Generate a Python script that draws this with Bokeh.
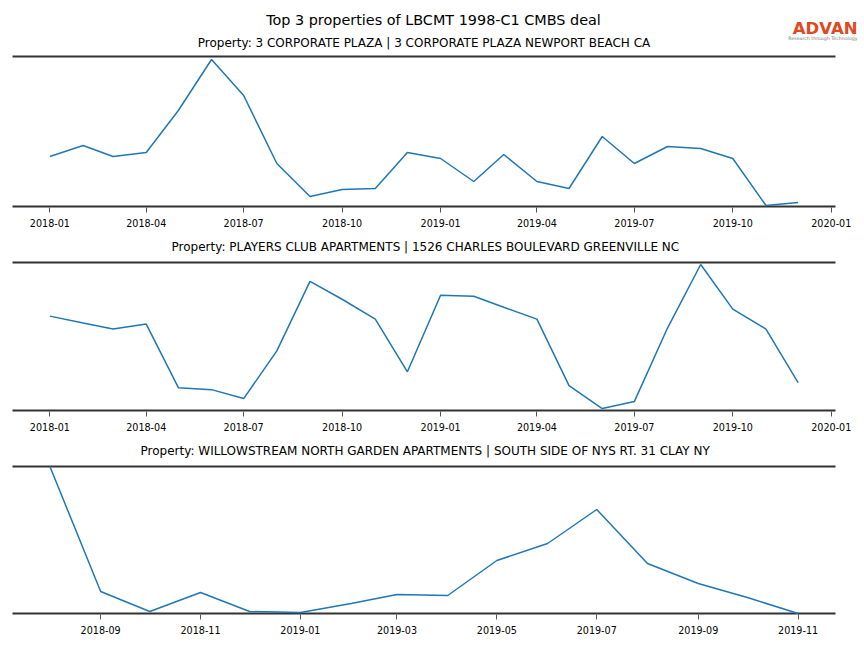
import pandas as pd
from bokeh.plotting import figure
from bokeh.models import (FixedTicker, DatetimeTickFormatter, Title, Range1d)
from bokeh.core.properties import value
from bokeh.layouts import column
from bokeh.embed import file_html
from bokeh.resources import INLINE

main_title = "Top 3 properties of LBCMT 1998-C1 CMBS deal"
logo_text = "ADVAN"
logo_sub = "Research through Technology"

titles = [
    "Property: 3 CORPORATE PLAZA | 3 CORPORATE PLAZA NEWPORT BEACH CA",
    "Property: PLAYERS CLUB APARTMENTS | 1526 CHARLES BOULEVARD GREENVILLE NC",
    "Property: WILLOWSTREAM NORTH GARDEN APARTMENTS | SOUTH SIDE OF NYS RT. 31 CLAY NY",
]

months_1 = ["2018-01", "2018-02", "2018-03", "2018-04", "2018-05", "2018-06",
            "2018-07", "2018-08", "2018-09", "2018-10", "2018-11", "2018-12",
            "2019-01", "2019-02", "2019-03", "2019-04", "2019-05", "2019-06",
            "2019-07", "2019-08", "2019-09", "2019-10", "2019-11", "2019-12"]
values_1 = [50, 61, 50, 54, 96, 147, 111, 43, 10, 17, 18, 54,
            48, 25, 52, 25, 18, 70, 43, 60, 58, 48, 1, 4]

months_2 = months_1
values_2 = [95, 88, 82, 87, 23, 21, 12, 60, 130, 112, 92, 39,
            116, 115, 104, 92, 25, 2, 9, 83, 147, 102, 82, 28]

months_3 = ["2018-08", "2018-09", "2018-10", "2018-11", "2018-12", "2019-01",
            "2019-02", "2019-03", "2019-04", "2019-05", "2019-06", "2019-07",
            "2019-08", "2019-09", "2019-10", "2019-11"]
values_3 = [147, 22, 2, 21, 2, 1, 10, 19, 18, 53, 70, 104, 50, 30, 16, 0]

ticks_12 = ["2018-01", "2018-04", "2018-07", "2018-10", "2019-01", "2019-04",
            "2019-07", "2019-10", "2020-01"]
ticks_3 = ["2018-09", "2018-11", "2019-01", "2019-03", "2019-05", "2019-07",
           "2019-09", "2019-11"]

FONT = "DejaVu Sans"
SPINE = "#333333"
LINE = "#1f77b4"
W = 864
AX_L, AX_R = 12, 835      # pixel extent of the axes box
PAD_PX = 2                # frame extends this far beyond the spines


def to_ms(labels):
    return [pd.Timestamp(s + "-01").value // 10**6 for s in labels]


# header: main title, first subplot title and logo
HH = 52
hdr = figure(width=W, height=HH, x_range=Range1d(0, W), y_range=Range1d(0, HH),
             x_axis_location=None, y_axis_location=None, min_border=0,
             min_border_left=0, min_border_right=0, min_border_top=0, min_border_bottom=0,
             output_backend="svg", toolbar_location=None)
hdr.grid.visible = False
hdr.outline_line_color = None
hdr.text(x=[433], y=[HH - 19], text=[main_title], text_font=value(FONT),
         text_font_size="14.4px", text_align="center", text_baseline="middle",
         text_color="#000000")
hdr.text(x=[423.5], y=[HH - 42], text=[titles[0]], text_font=value(FONT),
         text_font_size="12px", text_align="center", text_baseline="middle",
         text_color="#000000")
hdr.text(x=[857], y=[HH - 27.5], text=[logo_text], text_font=value(FONT),
         text_font_size="16.5px", text_font_style="bold", text_align="right",
         text_baseline="middle", text_color="#e0481e")
hdr.text(x=[857], y=[HH - 38], text=[logo_sub], text_font=value(FONT),
         text_font_size="4.7px", text_align="right", text_baseline="middle",
         text_color="#777777")


def make_panel(months, values, ticks, title, title_left, height, spine_top,
               spine_h, bottom, ymax):
    xs = pd.to_datetime([m + "-01" for m in months])
    span_days = (xs[-1] - xs[0]).days
    pad = pd.Timedelta(days=span_days * 0.05)
    x0, x1 = xs[0] - pad, xs[-1] + pad
    per_px = (x1 - x0) / (AX_R - AX_L)
    y_per_px = ymax / spine_h
    top = spine_top - PAD_PX
    p = figure(width=W, height=height, x_axis_type="datetime",
               y_axis_location=None, output_backend="svg", toolbar_location=None,
               x_range=Range1d(x0 - per_px * AX_L, x1 + per_px * (W - AX_R)),
               y_range=Range1d(-PAD_PX * y_per_px, ymax + PAD_PX * y_per_px),
               min_border_left=0, min_border_right=0,
               min_border_top=top, min_border_bottom=bottom - PAD_PX)
    if title:
        p.title = Title(text=title, align="left", offset=title_left, text_font=FONT,
                        text_font_size="12px", text_font_style="normal",
                        text_color="#000000", standoff=14)
    p.grid.visible = False
    p.outline_line_color = None
    p.background_fill_color = "white"
    p.border_fill_color = "white"
    ax = p.xaxis[0]
    ax.ticker = FixedTicker(ticks=to_ms(ticks))
    ax.formatter = DatetimeTickFormatter(months="%Y-%m", days="%Y-%m", years="%Y-%m")
    ax.axis_line_color = None
    ax.major_tick_line_color = "#555555"
    ax.major_tick_line_width = 1
    ax.major_tick_out = 4
    ax.major_tick_in = 1
    ax.minor_tick_line_color = None
    ax.major_label_text_font = FONT
    ax.major_label_text_font_size = "9.6px"
    ax.major_label_text_color = "#000000"
    ax.major_label_standoff = 6
    # spines (top and bottom of the axes box)
    p.segment(x0=[x0, x0], x1=[x1, x1], y0=[0, ymax], y1=[0, ymax],
              line_color=SPINE, line_width=2)
    p.line(xs, values, line_color=LINE, line_width=1.5)
    return p


# canvases: header 0-52, p1 52-230, p2 230-433, p3 433-640
p1 = make_panel(months_1, values_1, ticks_12, None, 0, 178, 56 - 52, 150, 24, 150)
p2 = make_panel(months_2, values_2, ticks_12, titles[1], 171, 203, 261 - 230, 149, 23, 149)
p3 = make_panel(months_3, values_3, ticks_3, titles[2], 140, 207, 466 - 433, 147, 27, 147)

layout = column(hdr, p1, p2, p3, spacing=0)
open("out.html", "w").write(file_html(layout, INLINE))
